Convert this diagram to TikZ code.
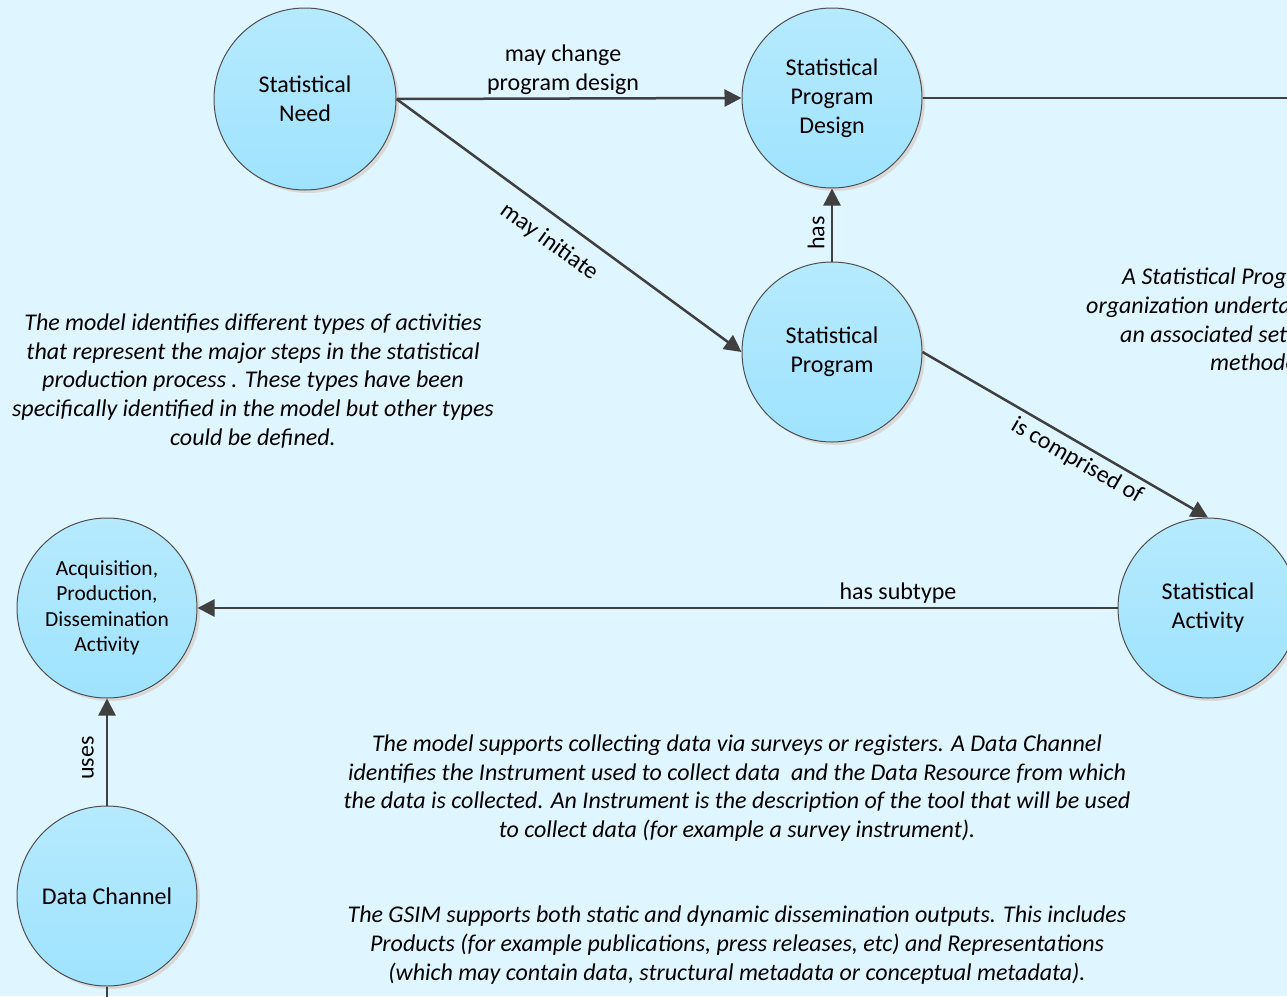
\documentclass[tikz,border=0pt]{standalone}
\usepackage{fontspec}
\setmainfont{Carlito}
\usetikzlibrary{shadows,arrows.meta}
\definecolor{bg}{HTML}{DFF5FF}
\definecolor{ctop}{HTML}{B6EAFE}
\definecolor{cbot}{HTML}{9FE3FE}
\definecolor{edgec}{HTML}{404040}
\definecolor{rim}{HTML}{505050}
\begin{document}
\begin{tikzpicture}[x=1pt,y=-1pt,
  ent/.style={circle, draw=rim, line width=1pt, top color=ctop, bottom color=cbot,
    minimum size=180pt, inner sep=0pt, align=center, font=\fontsize{24}{29}\selectfont,
    drop shadow={shadow xshift=3pt, shadow yshift=-3pt, fill=black!15, opacity=1}},
  rel/.style={draw=edgec, line width=2.5pt, -{Triangle[length=17pt,width=17pt]}},
  plain/.style={draw=edgec, line width=2.5pt},
  lbl/.style={font=\fontsize{24}{29}\selectfont, align=center, text=black, inner sep=0pt},
  note/.style={font=\itshape\fontsize{24}{28.7}\selectfont, align=center, inner sep=0pt}]
\useasboundingbox (0,0) rectangle (1287,996);
\clip (0,0) rectangle (1287,996);
\fill[bg] (0,0) rectangle (1287,996);

% entities
\node[ent, minimum size=182pt] (need) at (305,99) {Statistical\\Need};
\node[ent] (spd) at (832,98) {Statistical\\Program\\Design};
\node[ent] (sp) at (832,352) {Statistical\\Program};
\node[ent] (sa) at (1208,608) {Statistical\\Activity};
\node[ent, font=\fontsize{21.5}{25.5}\selectfont] (apd) at (107,608) {Acquisition,\\Production,\\Dissemination\\Activity};
\node[ent] (dc) at (107,896) {Data Channel};

\coordinate (r1) at (1300,98);
\coordinate (b1) at (107,1010);

% connectors
\draw[rel] (need.east) -- (spd.west);
\draw[rel] (need.east) -- (sp.west);
\draw[rel] (sp.north) -- (spd.south);
\draw[rel] (sp.east) -- (sa.north);
\draw[rel] (sa.west) -- (apd.east);
\draw[rel] (dc.north) -- (apd.south);
\draw[plain] (spd.east) -- (r1);
\draw[plain] (dc.south) -- (b1);

% connector labels
\node[lbl] (l1) at (563,70) {may change\\program design};
\node[lbl, rotate=-36] (l2) at (549,242) {may initiate};
\node[lbl, rotate=90] (l3) at (816,233) {has};
\node[lbl, rotate=-30] (l4) at (1077,461) {is comprised of};
\node[lbl] (l5) at (898,593) {has subtype};
\node[lbl, rotate=90] (l6) at (88,758) {uses};

% notes
\node[note] (n1) at (253,381) {The model identifies different types of activities\\
that represent the major steps in the statistical\\
production process . These types have been\\
specifically identified in the model but other types\\
could be defined.};
\node[note] (n2) at (737,788) {The model supports collecting data via surveys or registers. A Data Channel\\
identifies the Instrument used to collect data \ and the Data Resource from which\\
the data is collected. An Instrument is the description of the tool that will be used\\
to collect data (for example a survey instrument).};
\node[note] (n3) at (737,945) {The GSIM supports both static and dynamic dissemination outputs. This includes\\
Products (for example publications, press releases, etc) and Representations\\
(which may contain data, structural metadata or conceptual metadata).};

\node[note, anchor=west] (n4a) at (1122,278) {A Statistical Program is};
\node[note, anchor=west] (n4b) at (1086,307) {organization undertakes};
\node[note, anchor=west] (n4c) at (1120,336) {an associated set of};
\node[note, anchor=west] (n4d) at (1210,364) {methodology};
\end{tikzpicture}
\end{document}
